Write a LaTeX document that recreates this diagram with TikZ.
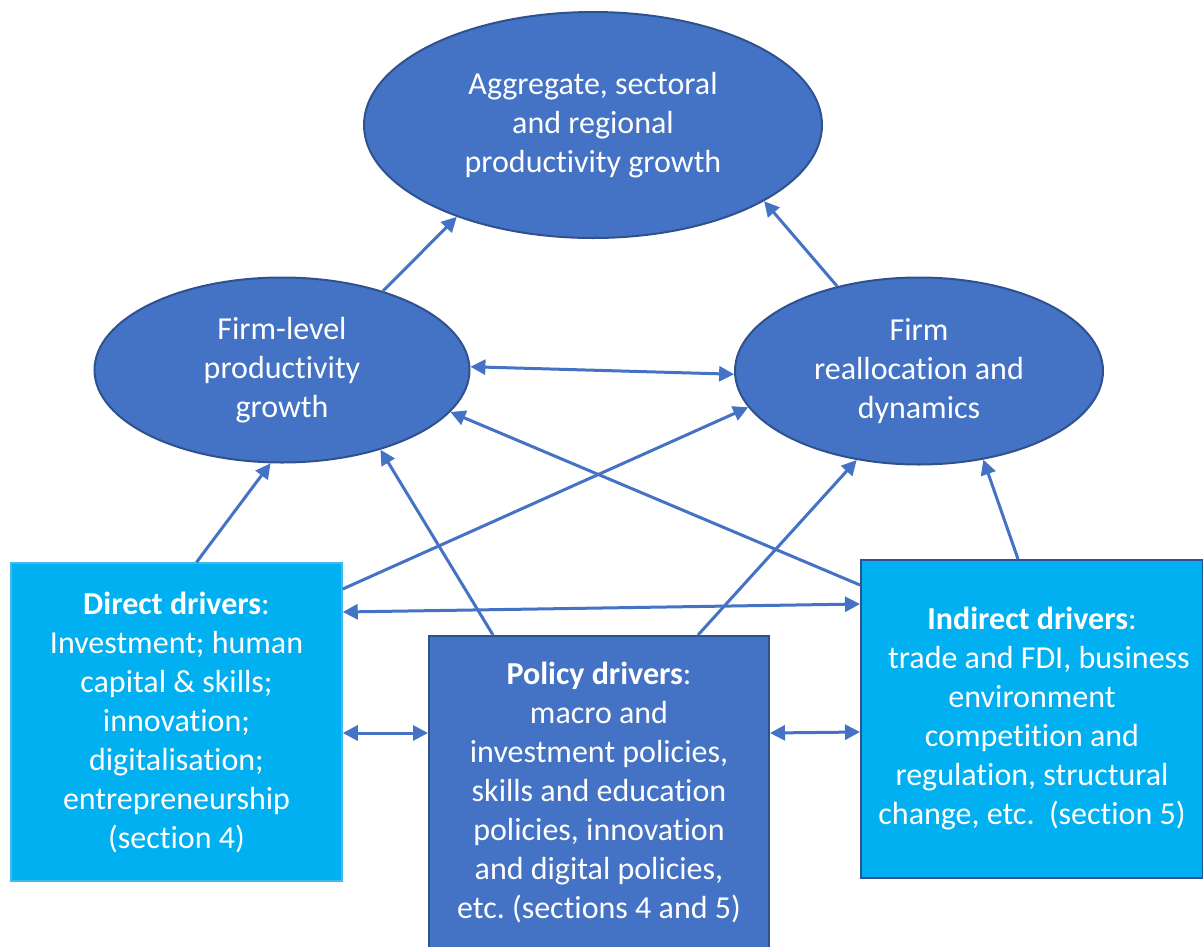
\documentclass[tikz,border=0pt]{standalone}
\usepackage{fontspec}
\setmainfont{Carlito}[Ligatures=NoCommon]
\usepackage{tikz}
\usetikzlibrary{arrows.meta, shapes.geometric}
\usepackage{xcolor}
\definecolor{azul}{HTML}{4472C4}
\definecolor{azulborda}{HTML}{2F528F}
\definecolor{ciano}{HTML}{00B0F0}
\definecolor{cianoborda}{HTML}{41B9EE}
\frenchspacing

\begin{document}
\begin{tikzpicture}[
    x=1pt, y=-1pt,
    every node/.style={text=white, align=center, font=\fontsize{32}{39}\selectfont, inner sep=0pt},
    oval/.style={draw=azulborda, fill=azul, ellipse, line width=2pt},
    cbox/.style={draw=cianoborda, fill=ciano, rectangle, line width=1.5pt},
    pbox/.style={draw=azulborda, fill=azul, rectangle, line width=2pt},
    arrow/.style={-{Triangle[length=15pt, width=15pt]}, azul, line width=3pt},
    darrow/.style={{Triangle[length=15pt, width=15pt]}-{Triangle[length=15pt, width=15pt]}, azul, line width=3pt}
]
\useasboundingbox (0,0) rectangle (1203,946);

% Elipses
\node[oval, minimum width=458pt, minimum height=226pt] (agg) at (593,125) {Aggregate, sectoral\\and regional\\productivity growth};
\node[oval, minimum width=375pt, minimum height=185pt] (firm) at (282,370) {Firm-level\\productivity\\growth};
\node[oval, minimum width=368pt, minimum height=187pt] (realloc) at (919,371) {Firm\\reallocation and\\dynamics};

% Caixas dos drivers
\node[cbox, minimum width=331pt, minimum height=318pt] (direct) at (176.5,722) {\textbf{Direct drivers}:\\Investment; human\\capital \& skills;\\innovation;\\digitalisation;\\entrepreneurship\\(section 4)};
\node[pbox, minimum width=340pt, minimum height=312pt] (policy) at (599,792) {\textbf{Policy drivers}:\\macro and\\investment policies,\\skills and education\\policies, innovation\\and digital policies,\\etc. (sections 4 and 5)};
\node[cbox, draw=azulborda, line width=2pt, minimum width=342pt, minimum height=318pt] (indirect) at (1032,719) {\textbf{Indirect drivers}:\\\hspace*{14pt}trade and FDI, business\\environment\\competition and\\regulation, structural\\change, etc.~~(section 5)};

% Setas para o topo
\draw[arrow] (firm.38.5) -- (agg.214.7);
\draw[arrow] (realloc.134.7) -- (agg.336);
\draw[darrow] (firm.1) -- (realloc.181.5);

% Setas dos drivers
\draw[arrow] ([xshift=20pt]direct.north) -- (firm.263);
\draw[arrow] ([yshift=133pt]direct.east) -- (realloc.192.6);
\draw[darrow] ([yshift=110pt]direct.east) -- ([yshift=115pt]indirect.west);
\draw[darrow] ([yshift=-11pt]direct.east) -- ([yshift=59pt]policy.west);
\draw[darrow] ([yshift=59pt]policy.east) -- ([yshift=-13pt]indirect.west);
\draw[arrow] ([xshift=-106pt]policy.north) -- (firm.321);
\draw[arrow] ([xshift=99pt]policy.north) -- (realloc.235.6);
\draw[arrow] ([yshift=134pt]indirect.west) -- (firm.346.6);
\draw[arrow] ([xshift=-14pt]indirect.north) -- (realloc.306.6);

\end{tikzpicture}
\end{document}
